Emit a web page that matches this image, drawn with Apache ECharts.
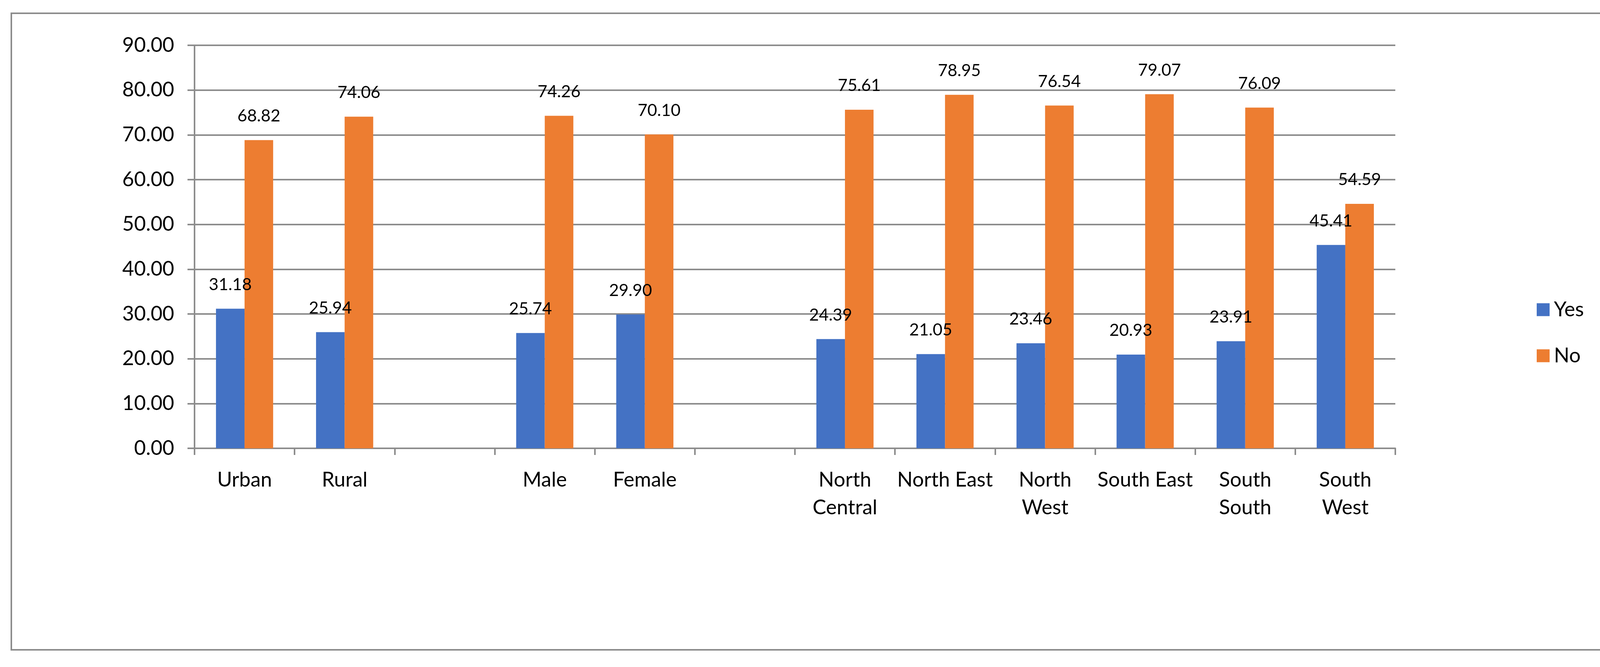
<!DOCTYPE html>
<html>
<head>
<meta charset="utf-8">
<script src="https://cdn.jsdelivr.net/npm/echarts@6/dist/echarts.min.js"></script>
<style>
html,body{margin:0;padding:0;background:#fff;}
#chart{width:4180px;height:1708px;}
</style>
</head>
<body>
<div id="chart"></div>
<script>
const categories = ['Urban', 'Rural', '', 'Male', 'Female', '', 'North\nCentral', 'North East', 'North\nWest', 'South East', 'South\nSouth', 'South\nWest'];
const yesValues = [31.18, 25.94, null, 25.74, 29.90, null, 24.39, 21.05, 23.46, 20.93, 23.91, 45.41];
const noValues = [68.82, 74.06, null, 74.26, 70.10, null, 75.61, 78.95, 76.54, 79.07, 76.09, 54.59];
const seriesNames = ['Yes', 'No'];
const yTicks = { min: 0, max: 90, interval: 10 };

const FONT = 'Lato, "Open Sans", sans-serif';
const GRAY = '#8c8c8c';

const chart = echarts.init(document.getElementById('chart'), null, { renderer: 'canvas' });

const labelCfg = {
  show: true,
  position: 'top',
  distance: 40,
  color: '#000',
  fontFamily: FONT,
  fontSize: 43,
  formatter: p => (p.value == null ? '' : Number(p.value).toFixed(2))
};

chart.setOption({
  animation: false,
  backgroundColor: '#fff',
  graphic: [{
    type: 'rect',
    shape: { x: 29, y: 34, width: 4111, height: 1630 },
    style: { fill: 'none', stroke: GRAY, lineWidth: 4 },
    silent: true,
    z: -1
  }],
  legend: {
    orient: 'vertical',
    left: 3929,
    top: 758,
    itemWidth: 33,
    itemHeight: 33,
    itemGap: 58,
    icon: 'rect',
    textStyle: { fontFamily: FONT, fontSize: 52, color: '#000', lineHeight: 60, padding: [0, 0, 0, 6] },
    data: seriesNames
  },
  grid: { left: 498, right: 608, top: 116, bottom: 560, containLabel: false },
  xAxis: {
    type: 'category',
    data: categories,
    boundaryGap: true,
    axisLine: { show: true, lineStyle: { color: GRAY, width: 4 } },
    axisTick: { show: true, length: 17, inside: false, alignWithLabel: false, lineStyle: { color: GRAY, width: 4 } },
    axisLabel: { interval: 0, margin: 46, color: '#000', fontFamily: FONT, fontSize: 52, lineHeight: 71 },
    splitLine: { show: false }
  },
  yAxis: {
    type: 'value',
    min: yTicks.min,
    max: yTicks.max,
    interval: yTicks.interval,
    axisLine: { show: true, lineStyle: { color: GRAY, width: 4 } },
    axisTick: { show: true, length: 18, lineStyle: { color: GRAY, width: 4 } },
    axisLabel: { margin: 52, color: '#000', fontFamily: FONT, fontSize: 52, formatter: v => v.toFixed(2) },
    splitLine: { show: true, lineStyle: { color: GRAY, width: 4 } }
  },
  series: [
    {
      name: seriesNames[0],
      type: 'bar',
      data: yesValues,
      barGap: '0%',
      barCategoryGap: '42.86%',
      itemStyle: { color: '#4472C4' },
      label: labelCfg
    },
    {
      name: seriesNames[1],
      type: 'bar',
      data: noValues,
      barGap: '0%',
      barCategoryGap: '42.86%',
      itemStyle: { color: '#ED7D31' },
      label: labelCfg
    }
  ]
});
</script>
</body>
</html>
